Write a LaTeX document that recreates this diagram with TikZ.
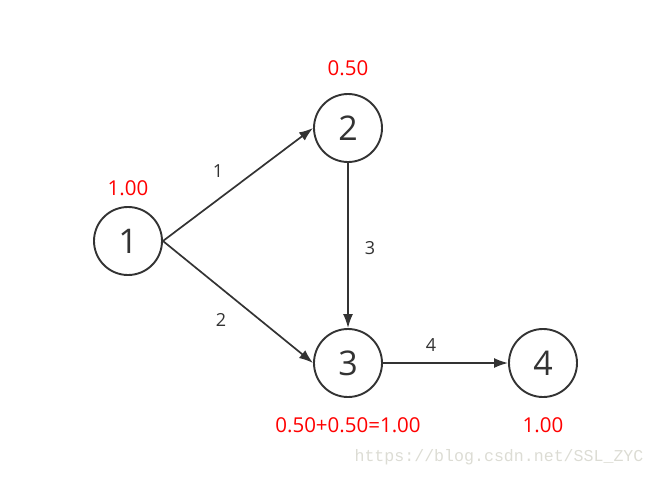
\documentclass[tikz,border=0pt]{standalone}
\usepackage{fontspec}
\setmainfont{Open Sans}
\newfontfamily\wmfont{Liberation Mono}
\usetikzlibrary{arrows.meta}
\definecolor{ink}{HTML}{333333}
\definecolor{wm}{HTML}{DCDCD4}
\begin{document}
\begin{tikzpicture}[x=1pt,y=-1pt,
  vtx/.style={circle,draw=ink,line width=1.9pt,minimum size=68pt,inner sep=0pt,text=ink,font=\fontsize{34}{34}\selectfont},
  edge/.style={draw=ink,line width=1.7pt,-{Latex[length=14pt,width=10pt]}},
  elab/.style={text=ink,font=\fontsize{18}{18}\selectfont},
  val/.style={text=red,font=\fontsize{20.5}{20.5}\selectfont}]
\useasboundingbox (0,0) rectangle (655,477);
\node[vtx] (n1) at (128,241) {1};
\node[vtx] (n2) at (348,128) {2};
\node[vtx] (n3) at (348,363) {3};
\node[vtx] (n4) at (543,363) {4};
\draw[edge] (n1.east) -- (n2.west);
\draw[edge] (n1.east) -- (n3.west);
\draw[edge] (n2.south) -- (n3.north);
\draw[edge] (n3.east) -- (n4.west);
\node[elab] (l1) at (218,171) {1};
\node[elab] (l2) at (221,320) {2};
\node[elab] (l3) at (370,248) {3};
\node[elab] (l4) at (431,345) {4};
\node[val] (v1) at (128,188) {1.00};
\node[val] (v2) at (348,68) {0.50};
\node[val] (v3) at (348,425) {0.50+0.50=1.00};
\node[val] (v4) at (543,425) {1.00};
\node[text=wm,font=\wmfont\fontsize{16.6}{16.6}\selectfont] (wmk) at (499,457) {https://blog.csdn.net/SSL\_ZYC};
\end{tikzpicture}
\end{document}
